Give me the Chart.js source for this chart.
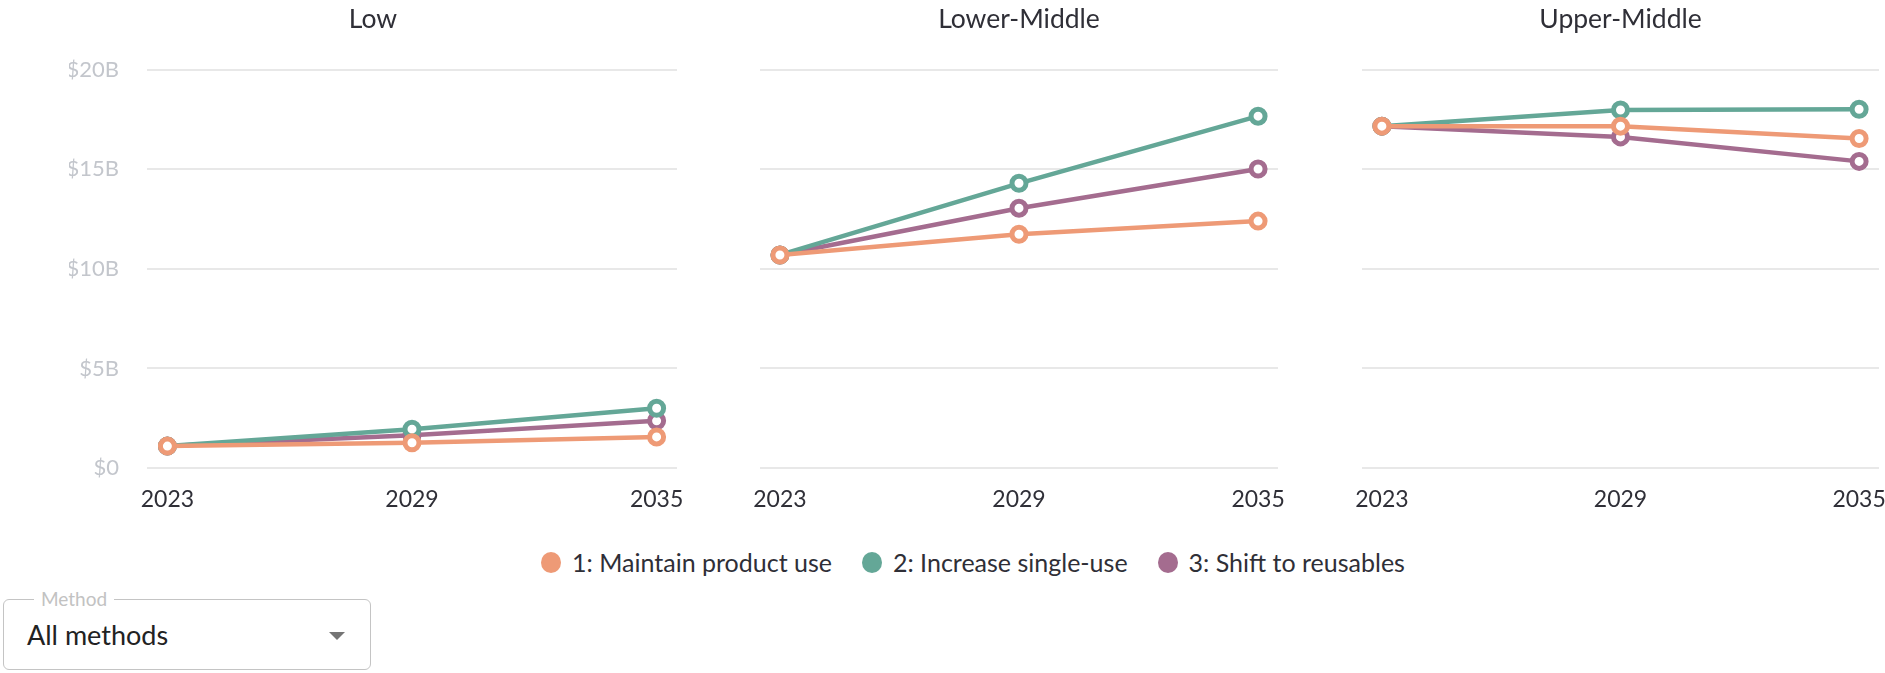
<!DOCTYPE html>
<html lang="en">
<head>
  <meta charset="UTF-8">
  <title>Plastics cost by income group</title>
  <script src="https://cdn.jsdelivr.net/npm/chart.js"></script>
  <style>
    html, body { margin: 0; padding: 0; background: #fff; overflow: hidden; }
    body { width: 1885px; height: 673px; position: relative; font-family: Lato, sans-serif; color: #2f2f37; }
    .panel { position: absolute; top: 0; height: 520px; }
    #p1 { left: 69px; width: 620px; }
    #p2 { left: 748px; width: 542px; }
    #p3 { left: 1350px; width: 541px; }
    .legend { position: absolute; top: 547px; left: 0; width: 1946px; display: flex; justify-content: center; gap: 30px; font-size: 25px; }
    .legend .item { display: flex; align-items: center; gap: 11px; white-space: nowrap; }
    .legend .dot { width: 20px; height: 21px; border-radius: 50%; display: inline-block; }
    .select { position: absolute; left: 3px; top: 599px; width: 366px; height: 69px; border: 1.5px solid #c4c4c4; border-radius: 6px; }
    .select .lbl { position: absolute; left: 30px; top: -13px; padding: 0 7px; background: #fff; font-size: 19px; color: #c2c2c2; }
    .select .val { position: absolute; left: 23px; top: 18px; font-size: 27px; color: #222; }
    .select .arrow { position: absolute; left: 325px; top: 32px; width: 0; height: 0; border-left: 8px solid transparent; border-right: 8px solid transparent; border-top: 8px solid #757575; }
  </style>
</head>
<body>
  <div class="panel" id="p1"><canvas id="c1"></canvas></div>
  <div class="panel" id="p2"><canvas id="c2"></canvas></div>
  <div class="panel" id="p3"><canvas id="c3"></canvas></div>
  <div class="legend" id="legend"></div>
  <div class="select">
    <span class="lbl">Method</span>
    <span class="val">All methods</span>
    <span class="arrow"></span>
  </div>

  <script>
    const years = [2023, 2029, 2035];
    const groups = ['Low', 'Lower-Middle', 'Upper-Middle'];
    const methods = ['1: Maintain product use', '2: Increase single-use', '3: Shift to reusables'];
    const colors = ['#ee9a76', '#64a797', '#a46c8f'];
    const yTicks = [0, 5, 10, 15, 20];

    // values in billions of dollars
    const lowMaintain = [1.1, 1.27, 1.56];
    const lowIncrease = [1.1, 1.95, 3.0];
    const lowShift = [1.1, 1.65, 2.37];
    const lowerMidMaintain = [10.7, 11.74, 12.4];
    const lowerMidIncrease = [10.7, 14.3, 17.67];
    const lowerMidShift = [10.7, 13.05, 15.02];
    const upperMidMaintain = [17.17, 17.17, 16.55];
    const upperMidIncrease = [17.17, 17.98, 18.02];
    const upperMidShift = [17.17, 16.63, 15.4];

    const panelData = [
      [lowMaintain, lowIncrease, lowShift],
      [lowerMidMaintain, lowerMidIncrease, lowerMidShift],
      [upperMidMaintain, upperMidIncrease, upperMidShift]
    ];

    function makeChart(id, idx) {
      const first = idx === 0;
      const datasets = panelData[idx].map((vals, i) => ({
        label: methods[i],
        data: vals.map((v, j) => ({ x: years[j], y: v })),
        borderColor: colors[i],
        backgroundColor: colors[i],
        borderWidth: 4.5,
        pointRadius: 7,
        pointBorderWidth: 5,
        pointBackgroundColor: '#fff',
        pointBorderColor: colors[i],
        tension: 0
      }));
      return new Chart(document.getElementById(id), {
        type: 'line',
        data: { datasets },
        options: {
          responsive: true,
          maintainAspectRatio: false,
          animation: false,
          layout: { padding: { left: first ? 0 : 12, right: 12, top: 0, bottom: 0 } },
          plugins: {
            legend: { display: false },
            tooltip: { enabled: false },
            title: {
              display: true,
              text: groups[idx],
              color: '#2f2f37',
              font: { family: 'Lato', size: 26.5, weight: 'normal' },
              padding: { top: 4, bottom: 34 }
            }
          },
          scales: {
            x: {
              type: 'linear',
              min: 2022.5,
              max: 2035.5,
              afterBuildTicks: s => { s.ticks = years.map(v => ({ value: v })); },
              afterFit: s => { s.height = 52; },
              grid: { display: false, drawTicks: true, tickLength: 18 },
              border: { display: false },
              ticks: {
                padding: 0,
                color: '#2f2f37',
                font: { family: 'Lato', size: 23 },
                callback: v => String(v)
              }
            },
            y: {
              min: 0,
              max: 20,
              afterBuildTicks: s => { s.ticks = yTicks.map(v => ({ value: v })); },
              afterFit: s => { s.width = first ? 78 : 0; },
              grid: { color: '#e8e8e8', lineWidth: 2, drawTicks: false },
              border: { display: false },
              ticks: {
                display: first,
                padding: 28,
                color: '#c3c6cc',
                font: { family: 'Lato', size: 22 },
                callback: v => v === 0 ? '$0' : '$' + v + 'B'
              }
            }
          }
        }
      });
    }

    makeChart('c1', 0);
    makeChart('c2', 1);
    makeChart('c3', 2);

    const legend = document.getElementById('legend');
    methods.forEach((m, i) => {
      const item = document.createElement('span');
      item.className = 'item';
      const dot = document.createElement('span');
      dot.className = 'dot';
      dot.style.background = colors[i];
      const txt = document.createElement('span');
      txt.textContent = m;
      item.appendChild(dot);
      item.appendChild(txt);
      legend.appendChild(item);
    });
  </script>
</body>
</html>
